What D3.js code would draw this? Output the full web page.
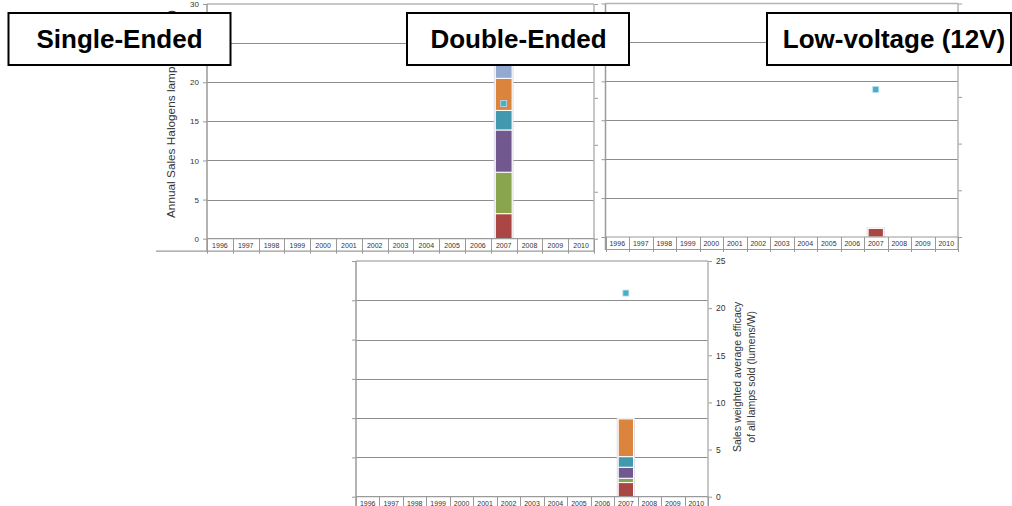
<!DOCTYPE html>
<html>
<head>
<meta charset="utf-8">
<script src="https://cdn.jsdelivr.net/npm/d3@7"></script>
<style>
  body { margin: 0; background: #fff; }
  svg { display: block; font-family: "Liberation Sans", Arial, sans-serif; }
</style>
</head>
<body>
<svg id="chart" width="1012" height="506"></svg>
<script>
// ---- data -------------------------------------------------------------
const years = ["1996","1997","1998","1999","2000","2001","2002","2003",
               "2004","2005","2006","2007","2008","2009","2010"];
const bandKeys = ["band1", "band2", "band3", "band4", "band5", "band6"];

// annual sales (millions of lamps), one row per band, one column per year
const topLeftSales = [
  [0,0,0,0,0,0,0,0,0,0,0,3.2,0,0,0],
  [0,0,0,0,0,0,0,0,0,0,0,5.3,0,0,0],
  [0,0,0,0,0,0,0,0,0,0,0,5.4,0,0,0],
  [0,0,0,0,0,0,0,0,0,0,0,2.5,0,0,0],
  [0,0,0,0,0,0,0,0,0,0,0,4.1,0,0,0],
  [0,0,0,0,0,0,0,0,0,0,0,2.6,0,0,0]
];
const topRightSales = [
  [0,0,0,0,0,0,0,0,0,0,0,1.1,0,0,0],
  [0,0,0,0,0,0,0,0,0,0,0,0,0,0,0],
  [0,0,0,0,0,0,0,0,0,0,0,0,0,0,0],
  [0,0,0,0,0,0,0,0,0,0,0,0,0,0,0],
  [0,0,0,0,0,0,0,0,0,0,0,0,0,0,0],
  [0,0,0,0,0,0,0,0,0,0,0,0,0,0,0]
];
const bottomSales = [
  [0,0,0,0,0,0,0,0,0,0,0,1.8,0,0,0],
  [0,0,0,0,0,0,0,0,0,0,0,0.55,0,0,0],
  [0,0,0,0,0,0,0,0,0,0,0,1.4,0,0,0],
  [0,0,0,0,0,0,0,0,0,0,0,1.35,0,0,0],
  [0,0,0,0,0,0,0,0,0,0,0,4.8,0,0,0],
  [0,0,0,0,0,0,0,0,0,0,0,0,0,0,0]
];

// sales weighted average efficacy (lumens/W)
const topLeftEfficacy  = [null,null,null,null,null,null,null,null,null,null,null,14.4,null,null,null];
const topRightEfficacy = [null,null,null,null,null,null,null,null,null,null,null,15.8,null,null,null];
const bottomEfficacy   = [null,null,null,null,null,null,null,null,null,null,null,21.6,null,null,null];

const salesTicks = [0, 5, 10, 15, 20, 25, 30];
const efficacyTicks = [0, 5, 10, 15, 20, 25];
const salesTitle = "Annual Sales Halogens lamps (millions)";
const efficacyTitle = ["Sales weighted average efficacy", "of all lamps sold (lumens/W)"];
const panelLabels = ["Single-Ended", "Double-Ended", "Low-voltage (12V)"];

// ---- styling ----------------------------------------------------------
const bandColors = ["#AA4643", "#89A54E", "#71588F", "#4198AF", "#DB843D", "#93A9CF"];
const pointColor = "#4BACC6";
const gridColor = "#8c8c8c";
const frameColor = "#b4b4b4";
const axisColor = "#9a9a9a";

const svg = d3.select("#chart");

// tick labels that sit underneath a label box are left out
const labelBoxTop = 13, labelBoxBottom = 65;

const panels = [
  { sales: topLeftSales, eff: topLeftEfficacy, x0: 207, x1: 594, yBottom: 238.7, yTop: 4,
    leftLabels: true, leftTitle: true, rowLineStart: 156, rightLabels: false },
  { sales: topRightSales, eff: topRightEfficacy, x0: 605.5, x1: 958, yBottom: 237, yTop: 3.5,
    leftLabels: false, leftTitle: false, rowLineStart: 605.5, rightLabels: false },
  { sales: bottomSales, eff: bottomEfficacy, x0: 356, x1: 708, yBottom: 496.7, yTop: 261,
    leftLabels: false, leftTitle: false, rowLineStart: 356, rightLabels: true }
];

function drawPanel(p) {
  const g = svg.append("g");
  const x = d3.scaleBand().domain(years).range([p.x0, p.x1]).padding(0);
  const y = d3.scaleLinear().domain([0, 30]).range([p.yBottom, p.yTop]);
  const y2 = d3.scaleLinear().domain([0, 25]).range([p.yBottom, p.yTop]);

  const rows = years.map((yr, i) => {
    const r = { year: yr };
    bandKeys.forEach((k, j) => { r[k] = p.sales[j][i]; });
    return r;
  });
  const stacked = d3.stack().keys(bandKeys)(rows);

  // plot background
  g.append("rect").attr("x", p.x0).attr("y", p.yTop)
    .attr("width", p.x1 - p.x0).attr("height", p.yBottom - p.yTop).attr("fill", "#fff");

  // horizontal gridlines
  g.selectAll(".grid").data(salesTicks.filter(t => t > 0 && t < 30)).enter()
    .append("line")
    .attr("x1", p.x0).attr("x2", p.x1)
    .attr("y1", d => Math.round(y(d)) + 0.5).attr("y2", d => Math.round(y(d)) + 0.5)
    .attr("stroke", gridColor).attr("stroke-width", 1);

  // frame: top edge
  g.append("line").attr("x1", p.x0).attr("x2", p.x1)
    .attr("y1", p.yTop).attr("y2", p.yTop)
    .attr("stroke", frameColor).attr("stroke-width", 1.5);

  // left axis
  const visibleLeft = d => {
    const py = y(d);
    return p.leftLabels && !(py > labelBoxTop && py < labelBoxBottom);
  };
  const leftAxis = d3.axisLeft(y).tickValues(salesTicks).tickSize(4)
    .tickFormat(d => visibleLeft(d) ? d3.format("d")(d) : "");
  const la = g.append("g").attr("transform", `translate(${p.x0},0)`).call(leftAxis);
  la.select(".domain").remove();
  la.selectAll(".tick line").attr("stroke", axisColor);
  la.selectAll(".tick text").filter(function () { return this.textContent === ""; }).remove();
  la.selectAll(".tick text").attr("font-size", 8).attr("fill", "#333")
    .attr("font-family", "Liberation Sans, Arial, sans-serif").attr("x", -8);
  g.append("line").attr("x1", p.x0).attr("x2", p.x0)
    .attr("y1", p.yTop).attr("y2", p.yBottom + 13)
    .attr("stroke", axisColor).attr("stroke-width", 1.5);

  // right (efficacy) axis
  const rightAxis = d3.axisRight(y2).tickValues(efficacyTicks).tickSize(4)
    .tickFormat(p.rightLabels ? d3.format("d") : () => "");
  const ra = g.append("g").attr("transform", `translate(${p.x1},0)`).call(rightAxis);
  ra.select(".domain").remove();
  ra.selectAll(".tick line").attr("stroke", axisColor);
  ra.selectAll(".tick text").filter(function () { return this.textContent === ""; }).remove();
  ra.selectAll(".tick text").attr("font-size", 8.5).attr("fill", "#333")
    .attr("font-family", "Liberation Sans, Arial, sans-serif").attr("x", 8);
  g.append("line").attr("x1", p.x1).attr("x2", p.x1)
    .attr("y1", p.yTop).attr("y2", p.yBottom + 13)
    .attr("stroke", frameColor).attr("stroke-width", 1.5);

  // stacked bars
  const bw = x.bandwidth() * 0.65;
  const off = (x.bandwidth() - bw) / 2;
  const totals = rows.map(r => d3.sum(bandKeys, k => r[k]));
  g.selectAll(".shadow").data(rows.filter((r, i) => totals[i] > 0)).enter()
    .append("rect")
    .attr("x", d => x(d.year) + off - 1.5)
    .attr("width", bw + 3)
    .attr("y", d => y(d3.sum(bandKeys, k => d[k])) - 1)
    .attr("height", d => p.yBottom - y(d3.sum(bandKeys, k => d[k])) + 1)
    .attr("fill", "#dedde8");
  stacked.forEach((layer, j) => {
    g.append("g").selectAll("rect")
      .data(layer.filter(d => d[1] - d[0] > 0)).enter()
      .append("rect")
      .attr("x", d => x(d.data.year) + off)
      .attr("width", bw)
      .attr("y", d => y(d[1]))
      .attr("height", d => y(d[0]) - y(d[1]))
      .attr("fill", bandColors[j])
      .attr("stroke", "#fff").attr("stroke-width", 1);
  });

  // efficacy points
  const pts = years.map((yr, i) => ({ year: yr, v: p.eff[i] })).filter(d => d.v != null);
  g.selectAll(".pt").data(pts).enter().append("rect")
    .attr("x", d => x(d.year) + x.bandwidth() / 2 - 3)
    .attr("y", d => y2(d.v) - 3)
    .attr("width", 6).attr("height", 6)
    .attr("fill", pointColor).attr("stroke", "#b9dfeb").attr("stroke-width", 0.8);

  // category row (table-like)
  const rowY = p.yBottom;
  g.append("line").attr("x1", p.x0).attr("x2", p.x1)
    .attr("y1", rowY).attr("y2", rowY)
    .attr("stroke", axisColor).attr("stroke-width", 1.2);
  g.append("line").attr("x1", p.rowLineStart).attr("x2", p.x1)
    .attr("y1", rowY + 12.5).attr("y2", rowY + 12.5)
    .attr("stroke", axisColor).attr("stroke-width", 1.2);
  const edges = years.map(yr => x(yr)).concat([p.x1]);
  g.selectAll(".sep").data(edges).enter().append("line")
    .attr("x1", d => Math.round(d) + 0.5).attr("x2", d => Math.round(d) + 0.5)
    .attr("y1", rowY).attr("y2", rowY + 15)
    .attr("stroke", axisColor).attr("stroke-width", 1);
  g.selectAll(".cat").data(years).enter().append("text")
    .attr("x", d => x(d) + x.bandwidth() / 2)
    .attr("y", rowY + 9.3)
    .attr("text-anchor", "middle")
    .attr("font-size", 7).attr("fill", "#333")
    .text(d => d);

  if (p.leftTitle) {
    g.append("text")
      .attr("transform", `translate(175,218) rotate(-90)`)
      .attr("text-anchor", "start")
      .attr("font-size", 11.8).attr("fill", "#333")
      .text(salesTitle);
  }
  if (p.rightLabels) {
    const cx = p.x1 + 33, cy = (p.yTop + p.yBottom) / 2 - 2;
    efficacyTitle.forEach((line, i) => {
      g.append("text")
        .attr("transform", `translate(${cx + i * 14},${cy}) rotate(-90)`)
        .attr("text-anchor", "middle")
        .attr("font-size", 10.5).attr("fill", "#333")
        .text(line);
    });
  }
}

panels.forEach(drawPanel);

// ---- panel labels -----------------------------------------------------
const labelBoxes = [
  { x: 8.5, w: 222, tx: 119.5 },
  { x: 407, w: 222, tx: 518.5 },
  { x: 767, w: 244, tx: 894 }
];
labelBoxes.forEach((b, i) => {
  svg.append("rect").attr("x", b.x).attr("y", labelBoxTop).attr("width", b.w)
    .attr("height", labelBoxBottom - labelBoxTop)
    .attr("fill", "#fff").attr("stroke", "#000").attr("stroke-width", 2);
  svg.append("text").attr("x", b.tx).attr("y", 48)
    .attr("text-anchor", "middle")
    .attr("font-size", 26).attr("font-weight", "bold").attr("fill", "#000")
    .text(panelLabels[i]);
});
</script>
</body>
</html>
